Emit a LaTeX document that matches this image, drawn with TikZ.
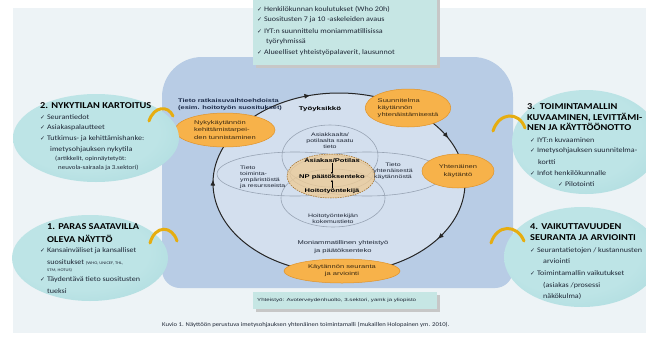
\documentclass[tikz,border=0pt]{standalone}
\usepackage{graphicx}
\usepackage{fontspec}
\setmainfont[FakeStretch=1.15]{Carlito}
\newfontfamily\arl[FakeStretch=1.4]{Liberation Sans}
\newfontfamily\dvs{DejaVu Sans}
\usetikzlibrary{shapes.geometric,arrows.meta,decorations.markings}
\definecolor{pagebg}{HTML}{EDF3F6}
\definecolor{bluearea}{HTML}{B8CCE5}
\definecolor{innerc}{HTML}{D3DFEE}
\definecolor{orangef}{HTML}{F7B24A}
\definecolor{oranged}{HTML}{E0932A}
\definecolor{tealin}{HTML}{BDE4E6}
\definecolor{tealmid}{HTML}{A2D5D9}
\definecolor{tealout}{HTML}{84BFC5}
\definecolor{boxfill}{HTML}{C6E6E4}
\definecolor{goldarc}{HTML}{E6AD10}
\definecolor{tanfill}{HTML}{ECCB98}
\definecolor{txtc}{HTML}{1E2635}
\definecolor{navyt}{HTML}{1B2A48}
\definecolor{brownt}{HTML}{3B2A12}
\definecolor{grayline}{HTML}{98A4B4}
\pgfdeclareradialshading{tealshade}{\pgfpoint{-6bp}{6bp}}{color(0bp)=(tealin); color(22bp)=(tealin); color(44bp)=(tealmid); color(50bp)=(tealout)}
\newcommand\ck{{\dvs\scalebox{0.85}{\char"2713}}\ }
\begin{document}
\begin{tikzpicture}[x=1pt,y=-1pt,
  tl/.style={anchor=west, inner sep=0pt, text=txtc, font=\fontsize{7}{8}\selectfont},
  tls/.style={tl, font=\fontsize{6}{7}\selectfont},
  ttl/.style={anchor=west, inner sep=0pt, text=black, font=\fontsize{9}{10}\selectfont\bfseries},
  bl/.style={inner sep=0pt, text=txtc, font=\arl\fontsize{5}{6}\selectfont},
  blb/.style={inner sep=0pt, text=navyt, font=\arl\fontsize{5.3}{6.5}\selectfont\bfseries},
  orangeov/.style={ellipse, fill=orangef, draw=oranged, line width=.5pt, inner sep=0pt, align=center, text=brownt, font=\arl\fontsize{5.4}{7.2}\selectfont},
  tealov/.style={ellipse, shading=tealshade, inner sep=0pt},
  innerell/.style={draw=grayline, line width=.6pt},
  cyc/.style={draw=black!85, line width=1pt},
  goldc/.style={draw=goldarc, line width=3pt, line cap=round},
  boxst/.style={fill=boxfill, inner sep=0pt, anchor=north west},
  tip/.style={-{Latex[length=2.2pt,width=2.2pt]}, line width=.5pt}
]
\useasboundingbox (0,0) rectangle (646,341);
\clip (0,0) rectangle (646,341);
\fill[white] (0,0) rectangle (646,341);
\fill[pagebg] (13,8) rectangle (646,333);

% blue working area
\fill[bluearea, rounded corners=40pt] (162,170) -- (162,57) -- (513,57) -- (513,170) [rounded corners=18pt] -- (513,288) -- (162,288) -- cycle;

% light inner circle
\fill[innerc] (339,183) ellipse [x radius=126, y radius=90];

% inner knowledge ellipses
\draw[innerell] (330,156) ellipse [x radius=48, y radius=31];
\draw[innerell] (295,174) ellipse [x radius=78, y radius=22];
\draw[innerell] (367,174) ellipse [x radius=77, y radius=22];
\draw[innerell] (333,198) ellipse [x radius=52, y radius=29];
\fill[tanfill, opacity=.8] (331,176) ellipse [x radius=44, y radius=22];
\draw[draw=oranged!70!black, dashed, dash pattern=on 1.5pt off 1pt, line width=.5pt] (331,176) ellipse [x radius=44, y radius=22];

% cycle with arrows
\draw[cyc, postaction={decorate}, decoration={markings,
   mark=at position 0.094 with {\arrow{Latex[length=6pt,width=5pt]}},
   mark=at position 0.505 with {\arrow{Latex[length=6pt,width=5pt]}},
   mark=at position 0.708 with {\arrow{Latex[length=6pt,width=5pt]}},
   mark=at position 0.929 with {\arrow{Latex[length=6pt,width=5pt]}}}]
   (339,183) ellipse [x radius=126, y radius=90];

% orange stages
\node[orangeov, minimum width=100, minimum height=34, align=left] (o1) at (225,130) {Nykykäytännön\\kehittämistarpei-\\den tunnistaminen};
\node[orangeov, minimum width=84, minimum height=38, align=left] (o2) at (408,108) {Suunnitelma\\käytännön\\yhtenäistämisestä};
\node[orangeov, minimum width=72, minimum height=34] (o3) at (458,171) {Yhtenäinen\\käytäntö};
\node[orangeov, minimum width=116, minimum height=24] (o4) at (342,271) {Käytännön seuranta\\ja arviointi};

% texts in blue area
\node[blb, anchor=west] (tr1) at (178,101) {Tieto ratkaisuvaihtoehdoista};
\node[blb, anchor=west] (tr2) at (178,108) {(esim. hoitotyön suositukset)};
\node[blb, font=\arl\fontsize{5.6}{6.5}\selectfont\bfseries, text=black] (tyo) at (320,109) {Työyksikkö};
\node[bl, align=center] (asi) at (330,141) {Asiakkaalta/\\potilaalta saatu\\tieto};
\node[bl, align=left, anchor=west] (toi) at (240,177) {Tieto\\toiminta-\\ympäristöstä\\ja resursseista};
\node[bl, align=center] (yht) at (393,171) {Tieto\\yhtenäisestä\\käytännöstä};
\node[bl, align=center] (hoi) at (333,219) {Hoitotyöntekijän\\kokemustieto};
\node[bl, align=center, font=\arl\fontsize{5.4}{8}\selectfont] (mon) at (343,247) {Moniammatillinen yhteistyö\\ja päätöksenteko};
\node[blb, text=black, font=\arl\fontsize{5.4}{6.5}\selectfont\bfseries] (cA) at (332,161) {Asiakas/Potilas};
\node[blb, text=black, font=\arl\fontsize{5.4}{6.5}\selectfont\bfseries] (cN) at (332,177) {NP päätöksenteko};
\node[blb, text=black, font=\arl\fontsize{5.4}{6.5}\selectfont\bfseries] (cH) at (332,191) {Hoitotyöntekijä};
\draw[tip] (cA.south) -- (cN.north);
\draw[tip] (cH.north) -- (cN.south);

% top box
\fill[black!22] (256,-2) rectangle (440,68);
\node[boxst, minimum width=184, minimum height=70] (topbox) at (253,-5) {};
\node[tl] (tb1) at (257,9) {\ck Henkilökunnan koulutukset (Who 20h)};
\node[tl] (tb2) at (257,20) {\ck Suositusten 7 ja 10 -askeleiden avaus};
\node[tl] (tb3) at (257,31) {\ck IYT:n suunnittelu moniammatillisissa};
\node[tl] (tb4) at (266,42) {työryhmissä};
\node[tl] (tb5) at (257,53) {\ck Alueelliset yhteistyöpalaverit, lausunnot};

% bottom box
\fill[black!22] (256,295) rectangle (440,312);
\node[boxst, minimum width=184, minimum height=17] (ybox) at (253,292) {};
\node[bl, anchor=west, font=\arl\fontsize{4.4}{5}\selectfont] (ytxt) at (257,300) {Yhteistyö: Avoterveydenhuolto, 3.sektori, yamk ja yliopisto};

% teal ovals
\node[tealov, minimum width=166, minimum height=88] (ov2) at (96,138) {};
\node[tealov, minimum width=156, minimum height=86] (ov1) at (90,258) {};
\node[tealov, minimum width=148, minimum height=104] (ov3) at (586,142) {};
\node[tealov, minimum width=156, minimum height=100] (ov4) at (582,257) {};

% oval 2
\node[ttl] (t2a) at (40,106) {2. NYKYTILAN KARTOITUS};
\node[tl] (t2b) at (40,117) {\ck Seurantiedot};
\node[tl] (t2c) at (40,128) {\ck Asiakaspalautteet};
\node[tl] (t2d) at (40,139) {\ck Tutkimus- ja kehittämishanke:};
\node[tl] (t2e) at (50,150) {imetysohjauksen nykytila};
\node[tls] (t2f) at (55,159) {(artikkelit, opinnäytetyöt:};
\node[tls] (t2g) at (58,168) {neuvola-sairaala ja 3.sektori)};

% oval 1
\node[ttl] (t1a) at (47,227) {1. PARAS SAATAVILLA};
\node[ttl] (t1b) at (47,239) {OLEVA NÄYTTÖ};
\node[tl] (t1c) at (40,251) {\ck Kansainväliset ja kansalliset};
\node[tl] (t1d) at (47,262) {suositukset {\fontsize{4}{5}\selectfont (WHO, UNICEF, THL,}};
\node[tl, font=\fontsize{4}{5}\selectfont] (t1e) at (47,270) {STM, HOTUS)};
\node[tl] (t1f) at (40,280) {\ck Täydentävä tieto suositusten};
\node[tl] (t1g) at (47,291) {tueksi};

% oval 3
\node[ttl] (t3a) at (527,107) {3.\ \ TOIMINTAMALLIN};
\node[ttl] (t3b) at (527,117) {KUVAAMINEN, LEVITTÄMI-};
\node[ttl] (t3c) at (527,127) {NEN JA KÄYTTÖÖNOTTO};
\node[tl] (t3d) at (530,140) {\ck IYT:n kuvaaminen};
\node[tl] (t3e) at (530,151) {\ck Imetysohjauksen suunnitelma-};
\node[tl] (t3f) at (538,162) {kortti};
\node[tl] (t3g) at (530,173) {\ck Infot henkilökunnalle};
\node[tl] (t3h) at (558,184) {\ck Pilotointi};

% oval 4
\node[ttl] (t4a) at (530,227) {4. VAIKUTTAVUUDEN};
\node[ttl] (t4b) at (530,238) {SEURANTA JA ARVIOINTI};
\node[tl] (t4c) at (530,251) {\ck Seurantatietojen / kustannusten};
\node[tl] (t4d) at (543,261) {arviointi};
\node[tl] (t4e) at (530,273) {\ck Toimintamallin vaikutukset};
\node[tl] (t4f) at (543,285) {(asiakas /prosessi};
\node[tl] (t4g) at (543,296) {näkökulma)};

% gold connecting arcs
\coordinate (g2a) at (149,121); \coordinate (g2b) at (173,116);
\coordinate (g1a) at (150,243); \coordinate (g1b) at (177,241);
\coordinate (g3a) at (493,131); \coordinate (g3b) at (525,128);
\coordinate (g4a) at (491,243); \coordinate (g4b) at (524,241);
\draw[goldc] (g2a) .. controls (154,106) and (168,105) .. (g2b);
\draw[goldc] (g1a) .. controls (155,225) and (172,225) .. (g1b);
\draw[goldc] (g3a) .. controls (499,112) and (519,111) .. (g3b);
\draw[goldc] (g4a) .. controls (497,224) and (517,224) .. (g4b);

% caption
\node[tl, font=\fontsize{5.8}{7}\selectfont] (cap) at (162,325) {Kuvio 1. Näyttöön perustuva imetysohjauksen yhtenäinen toimintamalli (mukaillen Holopainen ym. 2010).};
\end{tikzpicture}
\end{document}
